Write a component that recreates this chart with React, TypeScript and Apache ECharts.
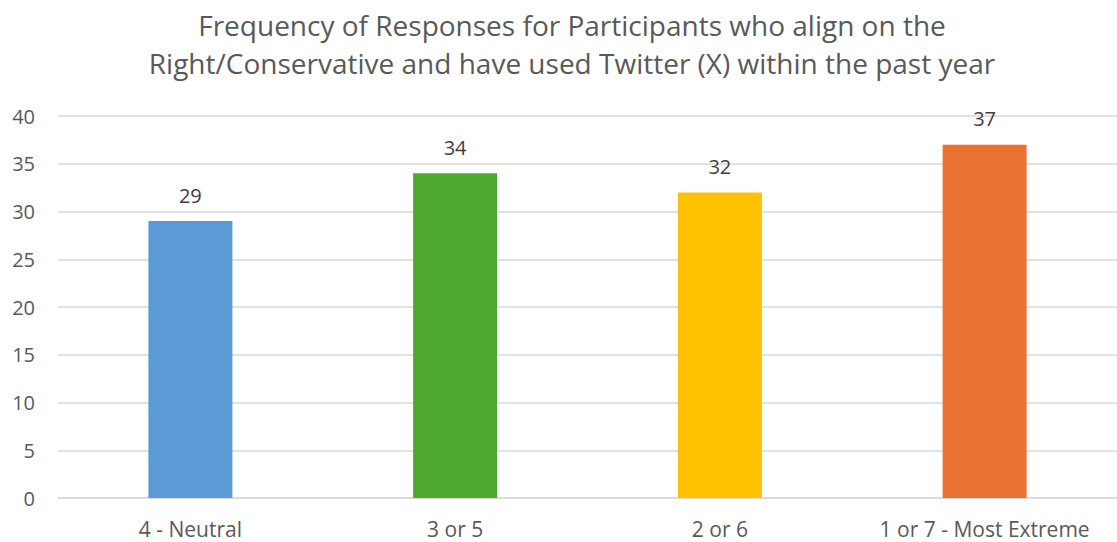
import React, { useEffect, useRef } from "react";
import * as echarts from "echarts";

const categories = ["4 - Neutral", "3 or 5", "2 or 6", "1 or 7 - Most Extreme"];
const counts = [29, 34, 32, 37];
const barColors = ["#5B9BD5", "#4EA72E", "#FFC000", "#E97132"];
const titleLines = [
  "Frequency of Responses for Participants who align on the",
  "Right/Conservative and have used Twitter (X) within the past year",
];

const FONT = "'Open Sans', 'Noto Sans', sans-serif";

export default function App() {
  const ref = useRef<HTMLDivElement>(null);

  useEffect(() => {
    document.body.style.margin = "0";
    if (!ref.current) return;
    const chart = echarts.init(ref.current, undefined, { renderer: "svg" });
    chart.setOption({
      animation: false,
      backgroundColor: "#ffffff",
      // two-line heading, centred slightly right of the page middle
      graphic: titleLines.map((line, i) => ({
        type: "text",
        x: 572,
        y: 25 + i * 38,
        silent: true,
        style: {
          text: line,
          fill: "#595959",
          font: `normal 28px ${FONT}`,
          textAlign: "center",
          textVerticalAlign: "middle",
        },
      })),
      grid: { left: 58, top: 116, width: 1065.3, height: 382, containLabel: false },
      xAxis: {
        type: "category",
        data: categories,
        axisLine: { lineStyle: { color: "#D9D9D9", width: 1.5 } },
        axisTick: { show: false },
        axisLabel: {
          interval: 0,
          hideOverlap: false,
          fontFamily: FONT,
          fontSize: 21,
          color: "#595959",
          margin: 20,
        },
      },
      yAxis: {
        type: "value",
        min: 0,
        max: 40,
        interval: 5,
        axisLine: { show: false },
        axisTick: { show: false },
        splitLine: { lineStyle: { color: "#D9D9D9", width: 1.5 } },
        axisLabel: {
          fontFamily: FONT,
          fontSize: 20,
          color: "#595959",
          margin: 23,
        },
      },
      series: [
        {
          type: "bar",
          data: counts.map((v, i) => ({ value: v, itemStyle: { color: barColors[i] } })),
          barWidth: 84,
          label: {
            show: true,
            position: "top",
            distance: 16,
            fontFamily: FONT,
            fontSize: 20,
            color: "#404040",
          },
        },
      ],
    });
    return () => chart.dispose();
  }, []);

  return <div ref={ref} style={{ width: 1117, height: 542 }} />;
}
